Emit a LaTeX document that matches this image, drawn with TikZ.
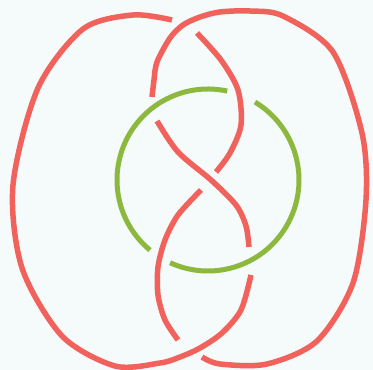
\documentclass[tikz,border=0pt]{standalone}
\definecolor{knotred}{RGB}{242,98,92}
\definecolor{ringgreen}{RGB}{140,184,62}
\definecolor{paperbg}{RGB}{245,250,251}
\tikzset{
  knotstrand/.style={draw=knotred,line width=5.5pt},
  ringstrand/.style={draw=ringgreen,line width=5pt}}
\begin{document}
\begin{tikzpicture}
\fill[paperbg] (0pt,0pt) rectangle (373pt,370pt);
\useasboundingbox (0pt,0pt) rectangle (373pt,370pt);
% red arcs of the knot (gaps where the strand passes under)
\draw[knotstrand] plot[smooth] coordinates {(157pt,249pt) (178pt,218pt) (211pt,190pt) (236pt,165pt) (246pt,144pt) (249pt,123pt)};
\draw[knotstrand] plot[smooth] coordinates {(251pt,95pt) (241pt,60pt) (222pt,37pt) (200pt,22pt) (180pt,13pt) (160pt,7pt) (115pt,4pt) (62pt,34pt) (22pt,102pt) (13pt,185pt) (38pt,282pt) (83pt,341pt) (133pt,355pt) (172pt,350pt)};
\draw[knotstrand] plot[smooth] coordinates {(197pt,337pt) (221pt,310pt) (238pt,280pt) (241pt,245pt) (230pt,217pt) (216pt,198pt)};
\draw[knotstrand] plot[smooth] coordinates {(201pt,180pt) (178pt,155pt) (165pt,130pt) (158pt,103pt) (158pt,75pt) (165pt,50pt) (178pt,30pt)};
\draw[knotstrand] plot[smooth] coordinates {(202pt,13pt) (220pt,6pt) (267pt,6pt) (317pt,29pt) (353pt,87pt) (366pt,170pt) (362pt,237pt) (333pt,318pt) (283pt,354pt) (250pt,359pt) (220pt,358pt) (200pt,353pt) (183pt,345pt) (170pt,332pt) (157pt,308pt) (154pt,290pt) (152pt,273pt)};
% green ring (gaps where it passes under the knot)
\draw[ringstrand] (208pt,190pt) ++(-114.6:91pt) arc[start angle=-114.6,end angle=58.9,radius=91pt];
\draw[ringstrand] (208pt,190pt) ++(77.8:91pt) arc[start angle=77.8,end angle=230.4,radius=91pt];
\end{tikzpicture}
\end{document}
